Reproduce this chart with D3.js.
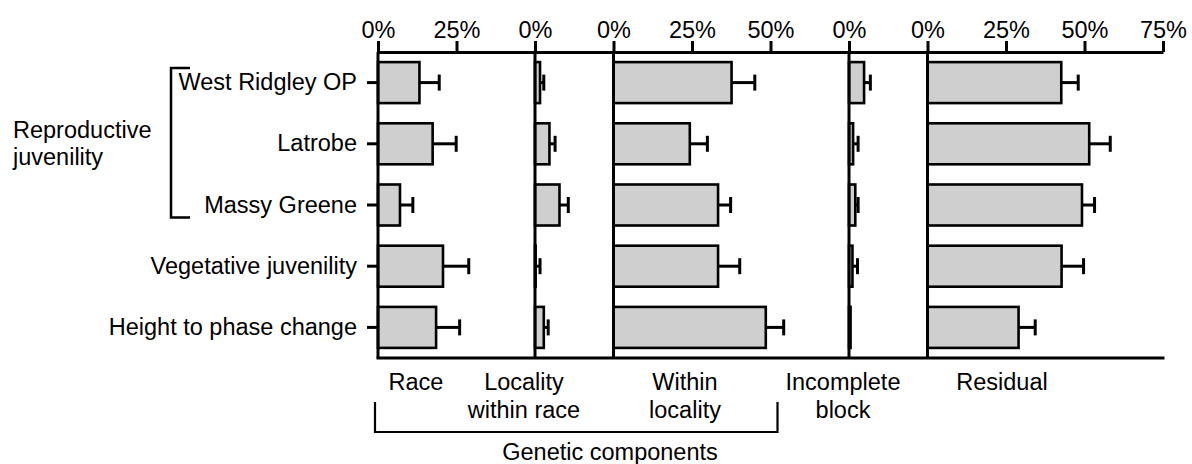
<!DOCTYPE html>
<html>
<head>
<meta charset="utf-8">
<script src="https://cdn.jsdelivr.net/npm/d3@7"></script>
<style>
  html, body { margin: 0; padding: 0; background: #fff; }
  svg { display: block; }
  text { font-family: "Liberation Sans", Arial, Helvetica, sans-serif; fill: #000; }
</style>
</head>
<body>
<svg id="chart" width="1192" height="464"></svg>
<script>
// ---- data ----
const categories = ["West Ridgley OP", "Latrobe", "Massy Greene", "Vegetative juvenility", "Height to phase change"];
const components = ["Race", "Locality within race", "Within locality", "Incomplete block", "Residual"];
const panelSpans = [50, 25, 75, 25, 75];            // % covered by each panel's axis
const panelTicks = [[0, 25], [0], [0, 25, 50], [0], [0, 25, 50, 75]];

const race          = [13.2, 17.4, 7.0, 20.7, 18.5];
const raceErr       = [6.3, 7.5, 4.1, 8.2, 7.5];
const locality      = [1.6, 4.6, 7.8, 0.2, 2.8];
const localityErr   = [1.2, 1.8, 2.8, 1.4, 1.4];
const within        = [37.6, 24.3, 33.3, 33.3, 48.5];
const withinErr     = [7.4, 5.6, 4.0, 6.9, 5.7];
const incomplete    = [4.8, 1.3, 2.0, 1.1, 0.5];
const incompleteErr = [2.0, 1.6, 0.9, 1.6, 0.0];
const residual      = [42.6, 51.5, 49.2, 42.7, 29.0];
const residualErr   = [5.4, 6.7, 4.0, 7.0, 5.3];

const seriesValues = [race, locality, within, incomplete, residual];
const seriesErrors = [raceErr, localityErr, withinErr, incompleteErr, residualErr];

const groupLabel = ["Reproductive", "juvenility"];
const groupMembers = ["West Ridgley OP", "Massy Greene"];
const bracketTitle = "Genetic components";

// ---- layout ----
const svg = d3.select("#chart");
const plotTop = 52, plotBottom = 358, plotLeft = 378, plotRight = 1163;
const fontSize = 23.5;

const total = d3.sum(panelSpans);
const xAll = d3.scaleLinear().domain([0, total]).range([plotLeft, plotRight]);
const offsets = panelSpans.map((s, i) => d3.sum(panelSpans.slice(0, i)));
const panelScales = panelSpans.map((s, i) =>
  d3.scaleLinear().domain([0, s]).range([xAll(offsets[i]), xAll(offsets[i] + s)]));

const y = d3.scaleBand().domain(categories).range([plotTop, plotBottom])
  .paddingInner(0.33).paddingOuter(0.165);

// bars + error bars
panelScales.forEach((xs, p) => {
  const g = svg.append("g");
  const rows = categories.map((c, i) => ({ c, v: seriesValues[p][i], e: seriesErrors[p][i] }));
  g.selectAll("rect").data(rows).join("rect")
    .attr("x", xs(0))
    .attr("y", d => y(d.c))
    .attr("width", d => xs(d.v) - xs(0))
    .attr("height", y.bandwidth())
    .attr("fill", "#cfcfcf")
    .attr("stroke", "#000")
    .attr("stroke-width", 2.6);
  const eb = rows.filter(d => d.e > 0);
  g.selectAll("line.err").data(eb).join("line").attr("class", "err")
    .attr("x1", d => xs(d.v)).attr("x2", d => xs(d.v + d.e))
    .attr("y1", d => y(d.c) + y.bandwidth() / 2).attr("y2", d => y(d.c) + y.bandwidth() / 2)
    .attr("stroke", "#000").attr("stroke-width", 3);
  g.selectAll("line.cap").data(eb).join("line").attr("class", "cap")
    .attr("x1", d => xs(d.v + d.e)).attr("x2", d => xs(d.v + d.e))
    .attr("y1", d => y(d.c) + y.bandwidth() / 2 - 8).attr("y2", d => y(d.c) + y.bandwidth() / 2 + 8)
    .attr("stroke", "#000").attr("stroke-width", 3);
});

// panel zero lines
svg.append("g").selectAll("line").data(panelScales).join("line")
  .attr("x1", s => s(0)).attr("x2", s => s(0))
  .attr("y1", plotTop).attr("y2", plotBottom)
  .attr("stroke", "#000").attr("stroke-width", 3);

// bottom line
svg.append("line").attr("x1", plotLeft - 1.5).attr("x2", plotRight + 1.5)
  .attr("y1", plotBottom).attr("y2", plotBottom).attr("stroke", "#000").attr("stroke-width", 3);

// top axes
panelScales.forEach((xs, p) => {
  const ax = svg.append("g").attr("transform", `translate(0,${plotTop})`)
    .call(d3.axisTop(xs).tickValues(panelTicks[p]).tickFormat(d => d + "%")
      .tickSize(11).tickSizeOuter(0).tickPadding(3));
  ax.select(".domain").attr("stroke", "#000").attr("stroke-width", 3);
  ax.selectAll(".tick line").attr("stroke", "#000").attr("stroke-width", 3);
  ax.selectAll(".tick text").attr("font-size", fontSize).attr("fill", "#000")
    .style("font-family", '"Liberation Sans", Arial, sans-serif');
});

// left category axis
const ay = svg.append("g").attr("transform", `translate(${plotLeft},0)`)
  .call(d3.axisLeft(y).tickSize(11).tickPadding(10));
ay.select(".domain").remove();
ay.selectAll(".tick line").attr("stroke", "#000").attr("stroke-width", 3);
ay.selectAll(".tick text").attr("font-size", fontSize).attr("fill", "#000")
  .style("font-family", '"Liberation Sans", Arial, sans-serif');

// group bracket on the left
const bx = 171, bTop = y(groupMembers[0]) + 6, bBot = y(groupMembers[1]) + y.bandwidth() - 8;
svg.append("path")
  .attr("d", `M${bx + 19},${bTop} H${bx} V${bBot} H${bx + 19}`)
  .attr("fill", "none").attr("stroke", "#000").attr("stroke-width", 2.5);
svg.append("text").attr("x", 13).attr("y", 138).attr("font-size", fontSize)
  .selectAll("tspan").data(groupLabel).join("tspan")
  .attr("x", 13).attr("dy", (d, i) => i ? 27 : 0).text(d => d);

// component labels below
const labelX = [416, 524, 685, 843, 1002];
const labelLines = components.map(c => {
  if (c === "Locality within race") return ["Locality", "within race"];
  if (c === "Within locality") return ["Within", "locality"];
  if (c === "Incomplete block") return ["Incomplete", "block"];
  return [c];
});
labelLines.forEach((lines, i) => {
  svg.append("text").attr("text-anchor", "middle").attr("font-size", fontSize)
    .attr("y", 390)
    .selectAll("tspan").data(lines).join("tspan")
    .attr("x", labelX[i]).attr("dy", (d, j) => j ? 28 : 0).text(d => d);
});

// genetic bracket
const gx0 = panelScales[0](0) - 3, gx1 = panelScales[2](0) + 164;
svg.append("path")
  .attr("d", `M${gx0},402 V432 H${gx1} V402`)
  .attr("fill", "none").attr("stroke", "#000").attr("stroke-width", 2.2);
svg.append("text").attr("x", 610).attr("y", 460).attr("text-anchor", "middle")
  .attr("font-size", fontSize).text(bracketTitle);
</script>
</body>
</html>
